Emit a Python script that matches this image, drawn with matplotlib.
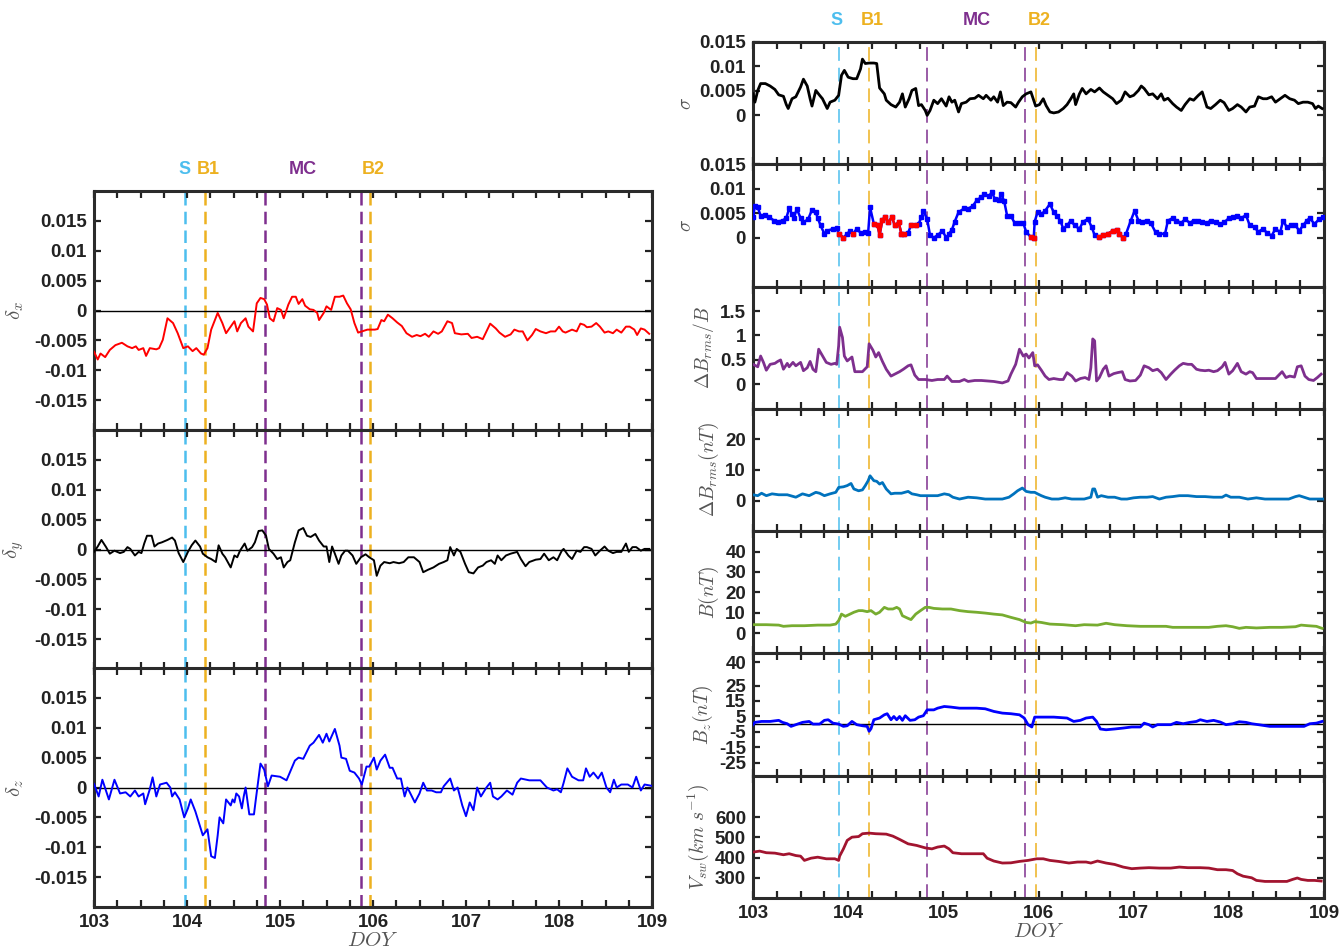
import matplotlib
matplotlib.use('Agg')
import matplotlib.pyplot as plt
import matplotlib.transforms as mtransforms
import numpy as np
from matplotlib.ticker import MultipleLocator

plt.rcParams['font.family'] = ['Liberation Sans', 'DejaVu Sans']
plt.rcParams['mathtext.fontset'] = 'cm'

# boundary times (DOY): S, B1, MC start, MC end, B2
left_events = [103.98, 104.19, 104.84, 105.87, 105.97]
right_events = [103.90, 104.22, 104.83, 105.86, 105.97]
event_colors = ['#4DBEEE', '#EDB120', '#7E2F8E', '#7E2F8E', '#EDB120']
event_names = ['S', 'B1', 'MC', 'B2']
event_name_colors = ['#4DBEEE', '#EDB120', '#7E2F8E', '#EDB120']
left_name_x = [103.97, 104.23, 105.25, 106.0]
right_name_x = [103.88, 104.25, 105.35, 106.01]

# left column: delta_x, delta_y, delta_z
delta_x = [(103.00, -0.0069), (103.04, -0.0082), (103.07, -0.0072), (103.12, -0.0078), (103.17, -0.0066),
           (103.23, -0.0058), (103.30, -0.0054), (103.36, -0.0060), (103.41, -0.0063), (103.45, -0.0060),
           (103.48, -0.0066), (103.53, -0.0063), (103.56, -0.0076), (103.60, -0.0063), (103.67, -0.0065),
           (103.70, -0.0063), (103.74, -0.0049), (103.79, -0.0013), (103.85, -0.0021), (103.90, -0.0038),
           (103.96, -0.0063), (104.01, -0.0060), (104.06, -0.0068), (104.10, -0.0063), (104.15, -0.0072),
           (104.18, -0.0074), (104.22, -0.0063), (104.26, -0.0032), (104.33, -0.0004), (104.38, -0.0021),
           (104.42, -0.0038), (104.47, -0.0027), (104.51, -0.0018), (104.54, -0.0035), (104.58, -0.0021),
           (104.63, -0.0013), (104.66, -0.0027), (104.71, -0.0035), (104.75, 0.0012), (104.79, 0.0021),
           (104.83, 0.0019), (104.86, 0.0010), (104.89, -0.0013), (104.93, -0.0018), (104.97, 0.0004),
           (105.01, 0.0001), (105.04, -0.0013), (105.09, 0.0010), (105.13, 0.0023), (105.17, 0.0023),
           (105.20, 0.0011), (105.24, 0.0019), (105.27, 0.0008), (105.32, 0.0002), (105.36, 0.0001),
           (105.40, -0.0004), (105.42, -0.0016), (105.47, -0.0004), (105.50, 0.0007), (105.55, 0.0001),
           (105.59, 0.0023), (105.64, 0.0023), (105.68, 0.0025), (105.72, 0.0012), (105.76, 0.0002),
           (105.80, -0.0021), (105.84, -0.0037), (105.88, -0.0035), (105.94, -0.0032), (105.98, -0.0032),
           (106.02, -0.0032), (106.05, -0.0031), (106.09, -0.0016), (106.12, -0.0018), (106.16, -0.0007),
           (106.21, -0.0013), (106.26, -0.0020), (106.31, -0.0026), (106.36, -0.0038), (106.42, -0.0044),
           (106.47, -0.0041), (106.51, -0.0043), (106.56, -0.0039), (106.60, -0.0044), (106.65, -0.0035),
           (106.70, -0.0039), (106.74, -0.0035), (106.80, -0.0018), (106.85, -0.0021), (106.88, -0.0038),
           (106.95, -0.0040), (107.02, -0.0039), (107.06, -0.0046), (107.12, -0.0044), (107.18, -0.0048),
           (107.22, -0.0035), (107.26, -0.0022), (107.32, -0.0030), (107.36, -0.0037), (107.42, -0.0044),
           (107.48, -0.0040), (107.52, -0.0032), (107.57, -0.0035), (107.61, -0.0035), (107.66, -0.0050),
           (107.71, -0.0041), (107.75, -0.0031), (107.80, -0.0035), (107.86, -0.0038), (107.91, -0.0035),
           (107.96, -0.0035), (108.00, -0.0027), (108.04, -0.0035), (108.07, -0.0037), (108.14, -0.0032),
           (108.19, -0.0035), (108.23, -0.0022), (108.27, -0.0024), (108.30, -0.0028), (108.35, -0.0027),
           (108.40, -0.0021), (108.44, -0.0027), (108.49, -0.0037), (108.53, -0.0035), (108.58, -0.0038),
           (108.62, -0.0032), (108.67, -0.0037), (108.72, -0.0027), (108.76, -0.0027), (108.81, -0.0032),
           (108.84, -0.0041), (108.88, -0.0030), (108.92, -0.0032), (108.97, -0.0039)]

delta_y = [(103.00, -0.0004), (103.04, 0.0005), (103.08, 0.0016), (103.13, 0.0004), (103.17, -0.0007),
           (103.22, -0.0002), (103.28, -0.0006), (103.32, -0.0004), (103.36, 0.0004), (103.39, 0.0001),
           (103.44, -0.0010), (103.48, -0.0004), (103.51, -0.0006), (103.54, 0.0010), (103.57, 0.0023),
           (103.62, 0.0023), (103.65, 0.0005), (103.69, 0.0010), (103.73, 0.0012), (103.79, 0.0016),
           (103.84, 0.0020), (103.87, 0.0015), (103.91, -0.0006), (103.96, -0.0021), (104.01, -0.0004),
           (104.05, 0.0007), (104.09, 0.0015), (104.14, 0.0005), (104.17, -0.0007), (104.22, -0.0013),
           (104.26, -0.0016), (104.31, -0.0021), (104.34, 0.0007), (104.38, -0.0007), (104.41, -0.0013),
           (104.47, -0.0030), (104.51, -0.0010), (104.54, -0.0013), (104.57, -0.0002), (104.62, 0.0010),
           (104.65, -0.0002), (104.70, 0.0004), (104.73, 0.0012), (104.77, 0.0031), (104.81, 0.0032),
           (104.85, 0.0023), (104.88, 0.0001), (104.93, -0.0007), (104.97, -0.0016), (105.01, -0.0013),
           (105.04, -0.0030), (105.08, -0.0021), (105.11, -0.0018), (105.16, 0.0012), (105.20, 0.0032),
           (105.25, 0.0036), (105.29, 0.0023), (105.33, 0.0021), (105.38, 0.0026), (105.42, 0.0015),
           (105.47, 0.0005), (105.50, 0.0005), (105.53, -0.0021), (105.56, 0.0005), (105.59, -0.0007),
           (105.63, -0.0024), (105.66, -0.0010), (105.70, -0.0002), (105.73, -0.0002), (105.78, -0.0010),
           (105.82, -0.0024), (105.87, -0.0013), (105.92, -0.0008), (105.96, -0.0013), (106.01, -0.0018),
           (106.04, -0.0044), (106.08, -0.0027), (106.12, -0.0021), (106.18, -0.0023), (106.22, -0.0021),
           (106.28, -0.0023), (106.33, -0.0021), (106.38, -0.0013), (106.44, -0.0013), (106.50, -0.0021),
           (106.54, -0.0038), (106.59, -0.0034), (106.65, -0.0030), (106.71, -0.0024), (106.76, -0.0021),
           (106.80, -0.0018), (106.83, 0.0004), (106.87, -0.0010), (106.90, 0.0001), (106.94, -0.0004),
           (106.99, -0.0024), (107.03, -0.0038), (107.08, -0.0040), (107.13, -0.0030), (107.18, -0.0027),
           (107.22, -0.0021), (107.27, -0.0018), (107.31, -0.0024), (107.34, -0.0010), (107.38, -0.0018),
           (107.43, -0.0010), (107.48, -0.0007), (107.55, -0.0004), (107.59, -0.0016), (107.64, -0.0028),
           (107.68, -0.0021), (107.75, -0.0017), (107.80, -0.0016), (107.84, -0.0007), (107.89, -0.0018),
           (107.94, -0.0013), (107.98, -0.0018), (108.03, -0.0002), (108.05, 0.0001), (108.10, -0.0010),
           (108.14, -0.0016), (108.19, -0.0002), (108.23, -0.0004), (108.27, 0.0004), (108.30, 0.0004),
           (108.35, 0.0001), (108.39, -0.0010), (108.44, -0.0002), (108.49, 0.0005), (108.53, -0.0002),
           (108.58, -0.0006), (108.62, -0.0004), (108.67, -0.0004), (108.72, 0.0010), (108.75, -0.0004),
           (108.79, 0.0004), (108.83, 0.0004), (108.88, -0.0002), (108.92, 0.0001), (108.97, 0.0001)]

delta_z = [(103.00, 0.0006), (103.05, -0.0015), (103.09, 0.0013), (103.16, -0.0020), (103.22, 0.0013),
           (103.28, -0.0010), (103.34, -0.0008), (103.39, -0.0015), (103.44, -0.0005), (103.48, -0.0015),
           (103.53, -0.0010), (103.55, -0.0028), (103.60, -0.0003), (103.63, 0.0017), (103.67, -0.0015),
           (103.71, 0.0005), (103.78, 0.0008), (103.82, 0.0000), (103.84, -0.0015), (103.87, -0.0008),
           (103.92, -0.0020), (103.97, -0.0050), (104.01, -0.0035), (104.04, -0.0020), (104.09, -0.0040),
           (104.12, -0.0055), (104.17, -0.0080), (104.22, -0.0070), (104.26, -0.0115), (104.30, -0.0118),
           (104.33, -0.0080), (104.35, -0.0050), (104.39, -0.0060), (104.42, -0.0020), (104.47, -0.0030),
           (104.49, -0.0020), (104.51, -0.0025), (104.53, -0.0010), (104.56, -0.0015), (104.59, -0.0035),
           (104.61, -0.0015), (104.63, 0.0000), (104.67, -0.0045), (104.72, -0.0045), (104.74, -0.0020),
           (104.79, 0.0040), (104.83, 0.0030), (104.87, 0.0002), (104.91, 0.0020), (105.00, 0.0018),
           (105.07, 0.0012), (105.16, 0.0045), (105.20, 0.0050), (105.25, 0.0048), (105.32, 0.0070),
           (105.36, 0.0075), (105.42, 0.0088), (105.46, 0.0075), (105.50, 0.0090), (105.53, 0.0077),
           (105.59, 0.0098), (105.64, 0.0070), (105.66, 0.0050), (105.71, 0.0048), (105.75, 0.0028),
           (105.80, 0.0025), (105.85, 0.0015), (105.88, 0.0005), (105.93, 0.0035), (105.96, 0.0035),
           (106.01, 0.0050), (106.04, 0.0030), (106.08, 0.0045), (106.13, 0.0055), (106.18, 0.0033),
           (106.21, 0.0033), (106.26, 0.0015), (106.30, 0.0015), (106.34, -0.0015), (106.37, 0.0000),
           (106.45, -0.0025), (106.50, -0.0010), (106.54, 0.0008), (106.58, -0.0005), (106.63, -0.0005),
           (106.68, -0.0008), (106.73, -0.0008), (106.76, 0.0002), (106.83, 0.0015), (106.87, -0.0005),
           (106.91, 0.0000), (106.96, -0.0030), (107.00, -0.0048), (107.04, -0.0025), (107.08, -0.0038),
           (107.12, 0.0000), (107.16, -0.0015), (107.22, 0.0000), (107.26, 0.0008), (107.29, -0.0015),
           (107.34, -0.0020), (107.38, -0.0015), (107.44, -0.0005), (107.50, -0.0012), (107.55, 0.0008),
           (107.59, 0.0015), (107.68, 0.0012), (107.80, 0.0012), (107.87, 0.0000), (107.94, -0.0005),
           (107.98, -0.0003), (108.02, -0.0008), (108.05, 0.0008), (108.09, 0.0032), (108.14, 0.0018),
           (108.21, 0.0012), (108.26, 0.0012), (108.29, 0.0032), (108.33, 0.0018), (108.37, 0.0025),
           (108.42, 0.0015), (108.46, 0.0025), (108.51, 0.0000), (108.55, -0.0008), (108.59, 0.0013),
           (108.62, 0.0000), (108.67, 0.0005), (108.74, 0.0005), (108.79, 0.0000), (108.83, 0.0018),
           (108.88, -0.0005), (108.92, 0.0005), (108.99, 0.0003)]

# right column
sigma_1 = [(103.00, 0.0044), (103.02, 0.0027), (103.05, 0.0051), (103.08, 0.0065), (103.13, 0.0065),
           (103.18, 0.0060), (103.23, 0.0053), (103.27, 0.0042), (103.32, 0.0039), (103.35, 0.0022),
           (103.37, 0.0014), (103.41, 0.0034), (103.45, 0.0038), (103.50, 0.0058), (103.53, 0.0074),
           (103.57, 0.0060), (103.60, 0.0034), (103.62, 0.0019), (103.66, 0.0051), (103.70, 0.0041),
           (103.73, 0.0034), (103.78, 0.0014), (103.81, 0.0027), (103.86, 0.0031), (103.90, 0.0041),
           (103.93, 0.0082), (103.96, 0.0092), (104.00, 0.0078), (104.05, 0.0075), (104.09, 0.0075),
           (104.13, 0.0095), (104.15, 0.0115), (104.18, 0.0106), (104.22, 0.0107), (104.27, 0.0107),
           (104.30, 0.0106), (104.33, 0.0056), (104.38, 0.0044), (104.40, 0.0031), (104.45, 0.0022),
           (104.50, 0.0017), (104.54, 0.0027), (104.57, 0.0044), (104.60, 0.0017), (104.64, 0.0034),
           (104.67, 0.0051), (104.71, 0.0055), (104.74, 0.0020), (104.77, 0.0022), (104.81, 0.0010),
           (104.83, 0.0000), (104.86, 0.0010), (104.90, 0.0031), (104.94, 0.0024), (104.98, 0.0034),
           (105.03, 0.0019), (105.06, 0.0038), (105.09, 0.0027), (105.12, 0.0031), (105.16, 0.0007),
           (105.19, 0.0024), (105.24, 0.0027), (105.28, 0.0034), (105.33, 0.0035), (105.37, 0.0041),
           (105.42, 0.0034), (105.45, 0.0041), (105.50, 0.0031), (105.53, 0.0038), (105.57, 0.0027),
           (105.60, 0.0048), (105.63, 0.0020), (105.67, 0.0027), (105.71, 0.0026), (105.76, 0.0017),
           (105.79, 0.0027), (105.83, 0.0038), (105.87, 0.0044), (105.92, 0.0048), (105.95, 0.0031),
           (105.97, 0.0019), (106.01, 0.0022), (106.05, 0.0034), (106.08, 0.0020), (106.12, 0.0007),
           (106.16, 0.0005), (106.21, 0.0007), (106.26, 0.0014), (106.30, 0.0022), (106.34, 0.0034),
           (106.37, 0.0044), (106.39, 0.0022), (106.43, 0.0044), (106.46, 0.0055), (106.50, 0.0044),
           (106.55, 0.0053), (106.59, 0.0048), (106.64, 0.0056), (106.68, 0.0048), (106.73, 0.0041),
           (106.78, 0.0034), (106.82, 0.0024), (106.87, 0.0031), (106.91, 0.0048), (106.96, 0.0038),
           (107.00, 0.0041), (107.05, 0.0051), (107.08, 0.0060), (107.11, 0.0055), (107.16, 0.0042),
           (107.20, 0.0044), (107.25, 0.0034), (107.29, 0.0044), (107.32, 0.0031), (107.36, 0.0035),
           (107.41, 0.0024), (107.45, 0.0017), (107.50, 0.0010), (107.54, 0.0022), (107.59, 0.0034),
           (107.63, 0.0031), (107.68, 0.0041), (107.72, 0.0048), (107.77, 0.0017), (107.81, 0.0014),
           (107.86, 0.0022), (107.91, 0.0031), (107.95, 0.0026), (108.00, 0.0010), (108.04, 0.0014),
           (108.09, 0.0022), (108.13, 0.0017), (108.18, 0.0007), (108.22, 0.0017), (108.27, 0.0019),
           (108.31, 0.0038), (108.36, 0.0034), (108.40, 0.0034), (108.45, 0.0038), (108.49, 0.0027),
           (108.54, 0.0034), (108.59, 0.0041), (108.64, 0.0034), (108.69, 0.0031), (108.73, 0.0024),
           (108.78, 0.0027), (108.83, 0.0027), (108.88, 0.0024), (108.91, 0.0014), (108.94, 0.0019),
           (108.98, 0.0014)]

sigma_2 = [(103.00, 0.0042), (103.02, 0.0065), (103.05, 0.0062), (103.08, 0.0045), (103.13, 0.0046),
           (103.17, 0.0042), (103.22, 0.0035), (103.26, 0.0033), (103.31, 0.0035), (103.35, 0.0040),
           (103.38, 0.0060), (103.41, 0.0048), (103.43, 0.0040), (103.46, 0.0059), (103.50, 0.0040),
           (103.53, 0.0031), (103.58, 0.0038), (103.62, 0.0057), (103.66, 0.0052), (103.68, 0.0040),
           (103.71, 0.0025), (103.75, 0.0008), (103.78, 0.0014), (103.84, 0.0018), (103.88, 0.0019),
           (103.90, 0.0008), (103.95, 0.0000), (103.99, 0.0008), (104.02, 0.0014), (104.05, 0.0008),
           (104.09, 0.0018), (104.13, 0.0010), (104.18, 0.0011), (104.21, 0.0010), (104.23, 0.0062),
           (104.27, 0.0028), (104.31, 0.0025), (104.33, 0.0005), (104.36, 0.0037), (104.39, 0.0042),
           (104.42, 0.0031), (104.46, 0.0042), (104.49, 0.0025), (104.53, 0.0031), (104.56, 0.0008),
           (104.59, 0.0008), (104.63, 0.0010), (104.66, 0.0025), (104.71, 0.0025), (104.74, 0.0028),
           (104.77, 0.0042), (104.79, 0.0055), (104.83, 0.0038), (104.86, 0.0005), (104.90, 0.0000),
           (104.94, 0.0005), (104.99, 0.0014), (105.03, 0.0000), (105.06, 0.0008), (105.09, 0.0016),
           (105.12, 0.0033), (105.16, 0.0052), (105.22, 0.0060), (105.26, 0.0059), (105.31, 0.0065),
           (105.35, 0.0076), (105.40, 0.0083), (105.43, 0.0089), (105.48, 0.0085), (105.51, 0.0093),
           (105.54, 0.0080), (105.58, 0.0076), (105.61, 0.0089), (105.64, 0.0074), (105.67, 0.0045),
           (105.71, 0.0044), (105.75, 0.0030), (105.79, 0.0030), (105.84, 0.0030), (105.87, 0.0012),
           (105.92, 0.0001), (105.95, 0.0000), (105.96, 0.0033), (105.99, 0.0052), (106.03, 0.0048),
           (106.07, 0.0055), (106.12, 0.0069), (106.16, 0.0052), (106.19, 0.0045), (106.23, 0.0035),
           (106.26, 0.0018), (106.30, 0.0025), (106.34, 0.0035), (106.38, 0.0025), (106.43, 0.0018),
           (106.47, 0.0033), (106.52, 0.0038), (106.56, 0.0021), (106.59, 0.0005), (106.64, 0.0001),
           (106.68, 0.0005), (106.73, 0.0008), (106.78, 0.0014), (106.82, 0.0016), (106.85, 0.0008),
           (106.89, 0.0000), (106.92, 0.0008), (106.97, 0.0035), (107.01, 0.0055), (107.05, 0.0035),
           (107.09, 0.0033), (107.14, 0.0035), (107.18, 0.0030), (107.23, 0.0011), (107.27, 0.0008),
           (107.33, 0.0008), (107.36, 0.0035), (107.41, 0.0040), (107.45, 0.0035), (107.50, 0.0030),
           (107.54, 0.0038), (107.59, 0.0030), (107.63, 0.0035), (107.68, 0.0035), (107.72, 0.0031),
           (107.77, 0.0030), (107.81, 0.0035), (107.86, 0.0031), (107.91, 0.0028), (107.95, 0.0031),
           (108.00, 0.0040), (108.04, 0.0042), (108.09, 0.0044), (108.13, 0.0040), (108.18, 0.0046),
           (108.22, 0.0025), (108.27, 0.0021), (108.31, 0.0012), (108.36, 0.0018), (108.40, 0.0010),
           (108.45, 0.0004), (108.49, 0.0018), (108.54, 0.0011), (108.57, 0.0035), (108.61, 0.0021),
           (108.65, 0.0025), (108.70, 0.0025), (108.74, 0.0014), (108.78, 0.0025), (108.82, 0.0035),
           (108.85, 0.0040), (108.90, 0.0028), (108.95, 0.0038), (108.99, 0.0042)]
# intervals where sigma_2 is drawn in red
sigma_2_red = [(103.89, 103.96), (104.04, 104.06), (104.26, 104.60), (104.65, 104.72),
               (105.91, 105.955), (106.63, 106.90)]

dbrms_ratio = [(103.00, 0.41), (103.05, 0.36), (103.08, 0.58), (103.11, 0.45), (103.14, 0.29), (103.18, 0.41),
               (103.23, 0.43), (103.26, 0.47), (103.29, 0.50), (103.32, 0.31), (103.36, 0.43), (103.38, 0.36),
               (103.42, 0.45), (103.45, 0.38), (103.50, 0.45), (103.53, 0.28), (103.57, 0.34), (103.60, 0.47),
               (103.63, 0.31), (103.66, 0.26), (103.69, 0.72), (103.72, 0.62), (103.77, 0.45), (103.82, 0.41),
               (103.86, 0.43), (103.88, 0.41), (103.90, 0.79), (103.91, 1.17), (103.94, 0.96), (103.96, 0.58),
               (103.99, 0.48), (104.04, 0.56), (104.07, 0.26), (104.11, 0.26), (104.15, 0.26), (104.20, 0.36),
               (104.22, 0.83), (104.26, 0.70), (104.29, 0.56), (104.32, 0.65), (104.36, 0.47), (104.40, 0.31),
               (104.45, 0.17), (104.49, 0.21), (104.54, 0.26), (104.58, 0.31), (104.63, 0.38), (104.66, 0.40),
               (104.70, 0.19), (104.74, 0.10), (104.81, 0.10), (104.88, 0.08), (104.94, 0.10), (105.01, 0.10),
               (105.04, 0.17), (105.09, 0.06), (105.17, 0.06), (105.22, 0.10), (105.26, 0.06), (105.33, 0.08),
               (105.40, 0.08), (105.46, 0.07), (105.53, 0.06), (105.62, 0.03), (105.68, 0.07), (105.71, 0.21),
               (105.76, 0.41), (105.80, 0.72), (105.84, 0.58), (105.87, 0.62), (105.90, 0.54), (105.94, 0.65),
               (105.96, 0.38), (105.99, 0.40), (106.03, 0.29), (106.07, 0.17), (106.11, 0.10), (106.16, 0.12),
               (106.22, 0.10), (106.26, 0.10), (106.30, 0.24), (106.35, 0.17), (106.39, 0.07), (106.44, 0.12),
               (106.49, 0.14), (106.53, 0.10), (106.55, 0.34), (106.57, 0.93), (106.59, 0.89), (106.61, 0.07),
               (106.64, 0.14), (106.68, 0.31), (106.71, 0.38), (106.74, 0.17), (106.79, 0.22), (106.83, 0.24),
               (106.88, 0.26), (106.91, 0.10), (106.96, 0.07), (107.02, 0.08), (107.07, 0.19), (107.11, 0.38),
               (107.16, 0.34), (107.20, 0.28), (107.25, 0.31), (107.29, 0.24), (107.34, 0.10), (107.39, 0.21),
               (107.43, 0.29), (107.48, 0.38), (107.52, 0.43), (107.57, 0.41), (107.61, 0.41), (107.66, 0.31),
               (107.70, 0.29), (107.75, 0.28), (107.79, 0.29), (107.84, 0.26), (107.88, 0.28), (107.93, 0.36),
               (107.96, 0.45), (108.00, 0.21), (108.04, 0.28), (108.09, 0.43), (108.13, 0.26), (108.18, 0.21),
               (108.22, 0.26), (108.25, 0.24), (108.29, 0.12), (108.36, 0.12), (108.43, 0.12), (108.49, 0.12),
               (108.56, 0.26), (108.60, 0.14), (108.64, 0.17), (108.69, 0.15), (108.72, 0.36), (108.76, 0.38),
               (108.80, 0.17), (108.84, 0.10), (108.89, 0.08), (108.93, 0.14), (108.97, 0.21)]

dbrms_nt = [(103.00, 1.9), (103.05, 1.6), (103.09, 2.4), (103.14, 1.6), (103.20, 2.2), (103.27, 1.9),
            (103.36, 1.9), (103.45, 1.1), (103.52, 2.2), (103.59, 1.6), (103.66, 2.7), (103.70, 2.4),
            (103.75, 1.6), (103.81, 2.2), (103.87, 2.7), (103.90, 4.3), (103.95, 4.5), (103.99, 4.9),
            (104.03, 5.6), (104.06, 3.8), (104.11, 3.2), (104.15, 3.5), (104.18, 4.9), (104.21, 6.5),
            (104.23, 8.1), (104.27, 6.5), (104.30, 6.3), (104.33, 5.4), (104.36, 5.9), (104.40, 3.8),
            (104.45, 2.2), (104.49, 2.4), (104.56, 2.4), (104.63, 3.0), (104.67, 2.2), (104.72, 1.9),
            (104.76, 1.6), (104.85, 1.6), (104.94, 1.6), (105.01, 2.2), (105.06, 1.9), (105.10, 1.1),
            (105.17, 0.5), (105.26, 1.1), (105.35, 0.9), (105.44, 0.5), (105.53, 0.5), (105.62, 0.5),
            (105.69, 1.1), (105.74, 2.2), (105.78, 3.2), (105.83, 4.1), (105.87, 3.0), (105.92, 2.7),
            (105.96, 2.7), (105.99, 2.2), (106.03, 1.6), (106.07, 1.1), (106.14, 0.5), (106.21, 0.5),
            (106.28, 0.9), (106.35, 0.5), (106.41, 0.5), (106.48, 0.5), (106.55, 1.1), (106.57, 3.8),
            (106.59, 3.8), (106.62, 1.1), (106.66, 1.6), (106.73, 1.1), (106.80, 1.1), (106.87, 0.5),
            (106.93, 0.5), (107.00, 0.9), (107.07, 1.1), (107.14, 1.1), (107.20, 1.3), (107.27, 0.5),
            (107.34, 1.1), (107.41, 1.3), (107.48, 1.6), (107.57, 1.6), (107.66, 1.3), (107.75, 1.3),
            (107.84, 1.1), (107.93, 1.1), (107.97, 1.8), (108.02, 1.1), (108.11, 1.1), (108.20, 0.5),
            (108.29, 0.9), (108.38, 0.5), (108.47, 0.5), (108.56, 0.5), (108.63, 0.5), (108.70, 1.3),
            (108.74, 1.6), (108.79, 1.1), (108.85, 0.5), (108.92, 0.5), (108.99, 0.5)]

b_total = [(103.00, 4.1), (103.14, 4.1), (103.27, 3.9), (103.32, 3.3), (103.41, 3.6), (103.54, 3.6),
           (103.68, 3.9), (103.81, 3.9), (103.87, 4.4), (103.90, 6.1), (103.93, 9.3), (103.97, 8.2),
           (104.02, 9.3), (104.06, 10.2), (104.11, 11.0), (104.15, 11.0), (104.20, 10.5), (104.24, 11.0),
           (104.29, 9.3), (104.33, 10.2), (104.38, 12.6), (104.42, 11.8), (104.47, 11.8), (104.51, 12.6),
           (104.54, 11.8), (104.57, 8.5), (104.63, 7.2), (104.66, 6.6), (104.71, 9.3), (104.76, 11.0),
           (104.81, 12.6), (104.85, 12.6), (104.90, 12.1), (104.99, 11.8), (105.08, 11.8), (105.17, 11.0),
           (105.26, 10.5), (105.35, 10.2), (105.44, 9.8), (105.53, 9.3), (105.62, 8.9), (105.71, 7.7),
           (105.80, 6.6), (105.87, 5.2), (105.92, 4.9), (105.96, 5.6), (106.03, 5.2), (106.12, 4.4),
           (106.26, 4.1), (106.39, 3.6), (106.48, 4.1), (106.62, 3.9), (106.71, 4.8), (106.80, 4.1),
           (106.93, 3.6), (107.07, 3.3), (107.20, 3.3), (107.34, 3.3), (107.41, 2.8), (107.52, 2.8),
           (107.66, 2.8), (107.79, 2.8), (107.88, 3.3), (107.97, 3.6), (108.04, 3.1), (108.11, 2.3),
           (108.18, 2.8), (108.29, 2.5), (108.43, 2.8), (108.56, 2.8), (108.70, 3.1), (108.76, 3.9),
           (108.83, 3.6), (108.92, 3.3), (108.98, 2.3)]

b_z = [(103.00, -0.4), (103.02, 1.1), (103.09, 1.7), (103.18, 1.7), (103.27, 2.4), (103.31, 1.1),
       (103.36, 0.2), (103.40, -1.5), (103.45, -0.4), (103.52, 1.1), (103.59, 1.7), (103.63, 0.0),
       (103.70, 0.0), (103.75, 2.4), (103.79, 2.8), (103.84, 0.6), (103.90, 0.0), (103.95, -1.5),
       (103.99, -1.1), (104.04, 1.7), (104.09, -0.4), (104.15, -1.1), (104.20, -1.5), (104.22, -4.7),
       (104.24, -3.0), (104.27, 2.8), (104.33, 3.9), (104.38, 6.0), (104.41, 6.7), (104.45, 2.8),
       (104.48, 4.9), (104.51, 2.8), (104.54, 4.9), (104.57, 2.4), (104.60, 5.4), (104.65, 2.4),
       (104.70, 2.8), (104.74, 4.5), (104.79, 5.4), (104.83, 9.2), (104.90, 9.2), (104.94, 10.3),
       (105.01, 11.4), (105.08, 11.0), (105.17, 10.3), (105.26, 10.3), (105.35, 10.3), (105.44, 9.9),
       (105.53, 8.2), (105.62, 7.1), (105.71, 6.7), (105.80, 6.0), (105.85, 3.9), (105.89, -0.4),
       (105.93, -1.9), (105.96, 4.5), (106.03, 4.5), (106.16, 4.5), (106.30, 3.9), (106.37, 1.7),
       (106.44, 2.4), (106.50, 3.9), (106.57, 4.5), (106.61, 1.7), (106.65, -3.2), (106.71, -3.7),
       (106.80, -3.2), (106.89, -2.6), (106.98, -1.9), (107.07, -1.9), (107.11, 0.6), (107.16, -0.4),
       (107.20, -1.9), (107.25, -0.4), (107.32, -0.4), (107.39, -0.4), (107.45, 1.1), (107.52, 0.2),
       (107.59, 1.1), (107.66, 1.7), (107.70, 2.8), (107.77, 1.7), (107.84, 2.4), (107.91, 1.3),
       (107.97, -0.4), (108.04, 0.2), (108.11, 1.5), (108.18, 1.1), (108.24, 0.2), (108.31, -0.4),
       (108.43, -1.5), (108.56, -1.5), (108.70, -1.5), (108.79, -1.5), (108.85, 0.2), (108.92, 0.6),
       (108.98, 1.7)]

v_sw = [(103.00, 427), (103.07, 432), (103.14, 424), (103.23, 422), (103.32, 414), (103.38, 419),
        (103.45, 410), (103.50, 407), (103.54, 386), (103.61, 397), (103.68, 402), (103.77, 394),
        (103.86, 394), (103.90, 386), (103.91, 407), (103.95, 443), (103.99, 485), (104.04, 501),
        (104.11, 504), (104.15, 518), (104.22, 521), (104.29, 518), (104.40, 516), (104.47, 506),
        (104.54, 490), (104.63, 468), (104.72, 460), (104.81, 448), (104.88, 443), (104.94, 452),
        (105.01, 457), (105.06, 443), (105.10, 424), (105.19, 419), (105.31, 419), (105.42, 419),
        (105.46, 397), (105.53, 383), (105.62, 373), (105.71, 374), (105.80, 381), (105.89, 386),
        (105.98, 394), (106.05, 394), (106.12, 386), (106.21, 381), (106.32, 373), (106.41, 378),
        (106.50, 378), (106.55, 373), (106.62, 383), (106.71, 373), (106.80, 366), (106.89, 353),
        (106.98, 345), (107.07, 348), (107.16, 350), (107.27, 348), (107.39, 348), (107.48, 353),
        (107.57, 350), (107.70, 350), (107.79, 348), (107.88, 340), (107.97, 340), (108.04, 336),
        (108.09, 320), (108.15, 308), (108.24, 300), (108.29, 287), (108.38, 282), (108.52, 282),
        (108.61, 282), (108.67, 292), (108.72, 299), (108.76, 292), (108.83, 287), (108.90, 287),
        (108.97, 284)]

left_ylabels = [r'$\delta_x$', r'$\delta_y$', r'$\delta_z$']
left_colors = ['red', 'black', 'blue']
left_ticks = [-0.015, -0.01, -0.005, 0, 0.005, 0.01, 0.015]

right_ylabels = [r'$\sigma$', r'$\sigma$', r'$\Delta B_{rms}/B$', r'$\Delta B_{rms}(nT)$',
                 r'$B(nT)$', r'$B_z(nT)$', r'$V_{sw}(km\ s^{-1})$']
right_ylims = [(-0.01, 0.015), (-0.01, 0.015), (-0.5, 2.0), (-10, 30), (-10, 50), (-33.5, 45.8), (200, 805)]
right_ticks = [[0, 0.005, 0.01, 0.015], [0, 0.005, 0.01, 0.015], [0, 0.5, 1, 1.5], [0, 10, 20],
               [0, 10, 20, 30, 40], [-25, -15, -5, 5, 15, 25, 40], [300, 400, 500, 600]]

W, H = 1339, 951
fig = plt.figure(figsize=(W / 100, H / 100), dpi=100)
tick_color = '#222222'
label_color = '#555555'


def style_axes(ax, ylim, yticks, tick_size):
    ax.set_xlim(103, 109)
    ax.set_ylim(*ylim)
    ax.set_yticks(yticks)
    ax.set_yticklabels(['{:g}'.format(t) for t in yticks])
    ax.xaxis.set_major_locator(MultipleLocator(1))
    ax.xaxis.set_minor_locator(MultipleLocator(0.25))
    ax.tick_params(which='both', direction='in', top=True, right=True,
                   length=5, width=1.6, color='#222222')
    ax.tick_params(axis='both', labelsize=tick_size, labelcolor=tick_color, pad=5)
    for lab in ax.get_xticklabels() + ax.get_yticklabels():
        lab.set_fontweight('bold')
    for sp in ax.spines.values():
        sp.set_linewidth(2.2)
        sp.set_color('#2b2b2b')


def draw_events(ax, times, lw, dashes):
    for t, c in zip(times, event_colors):
        ax.axvline(t, color=c, lw=lw, dashes=dashes, zorder=1)


def draw_names(ax, xs, yfrac):
    tr = mtransforms.blended_transform_factory(ax.transData, ax.transAxes)
    for x, name, c in zip(xs, event_names, event_name_colors):
        ax.text(x, yfrac, name, transform=tr, color=c, fontsize=13, fontweight='bold',
                ha='center', va='center')


# left column
left_series = [delta_x, delta_y, delta_z]
lx0, lw_ = 94 / W, 558 / W
lh = 239 / H
left_bottoms = [1 - 430 / H, 1 - 669 / H, 1 - 907 / H]
for i, (ser, bot) in enumerate(zip(left_series, left_bottoms)):
    ax = fig.add_axes([lx0, bot, lw_, lh])
    d = np.array(ser).T
    ax.axhline(0, color='k', lw=1.0, zorder=2)
    draw_events(ax, left_events, 1.8, (5, 2.5))
    ax.plot(d[0], d[1], color=left_colors[i], lw=1.4, zorder=3)
    style_axes(ax, (-0.02, 0.02), left_ticks, 13.5)
    ax.set_ylabel(left_ylabels[i], fontsize=15, color=label_color, labelpad=6)
    if i < 2:
        ax.tick_params(labelbottom=False)
    else:
        ax.set_xlabel(r'$DOY$', fontsize=15, color=label_color, labelpad=0)
    if i == 0:
        draw_names(ax, left_name_x, 1 + 22 / 239)

# right column
rx0, rw = 753 / W, 571 / W
rh = (898 - 42) / 7 / H
right_series = [sigma_1, sigma_2, dbrms_ratio, dbrms_nt, b_total, b_z, v_sw]
right_colors = ['black', 'blue', '#7E2F8E', '#0072BD', '#77AC30', 'blue', '#A2142F']
for i, ser in enumerate(right_series):
    bot = 1 - (42 + (i + 1) * (898 - 42) / 7) / H
    ax = fig.add_axes([rx0, bot, rw, rh])
    d = np.array(ser).T
    draw_events(ax, right_events, 1.1, (9, 4.5))
    if i == 5:
        ax.axhline(0, color='k', lw=1.0, zorder=2)
    if i == 1:
        ax.plot(d[0], d[1], color='blue', lw=1.8, marker='s', ms=3.5, zorder=3)
        red = np.zeros(len(d[0]), dtype=bool)
        for a, b in sigma_2_red:
            red |= (d[0] >= a) & (d[0] <= b)
        ax.plot(d[0], np.where(red, d[1], np.nan), color='red', lw=1.8, marker='s', ms=3.5, zorder=4)
    else:
        ax.plot(d[0], d[1], color=right_colors[i], lw=2.0, zorder=3)
    style_axes(ax, right_ylims[i], right_ticks[i], 13.5)
    ax.set_ylabel(right_ylabels[i], fontsize=14, color=label_color, labelpad=3)
    if i < 6:
        ax.tick_params(labelbottom=False)
    else:
        ax.set_xlabel(r'$DOY$', fontsize=15, color=label_color, labelpad=0)
    if i == 0:
        draw_names(ax, right_name_x, 1 + 21 / 122)

fig.savefig('out.png', dpi=100)
